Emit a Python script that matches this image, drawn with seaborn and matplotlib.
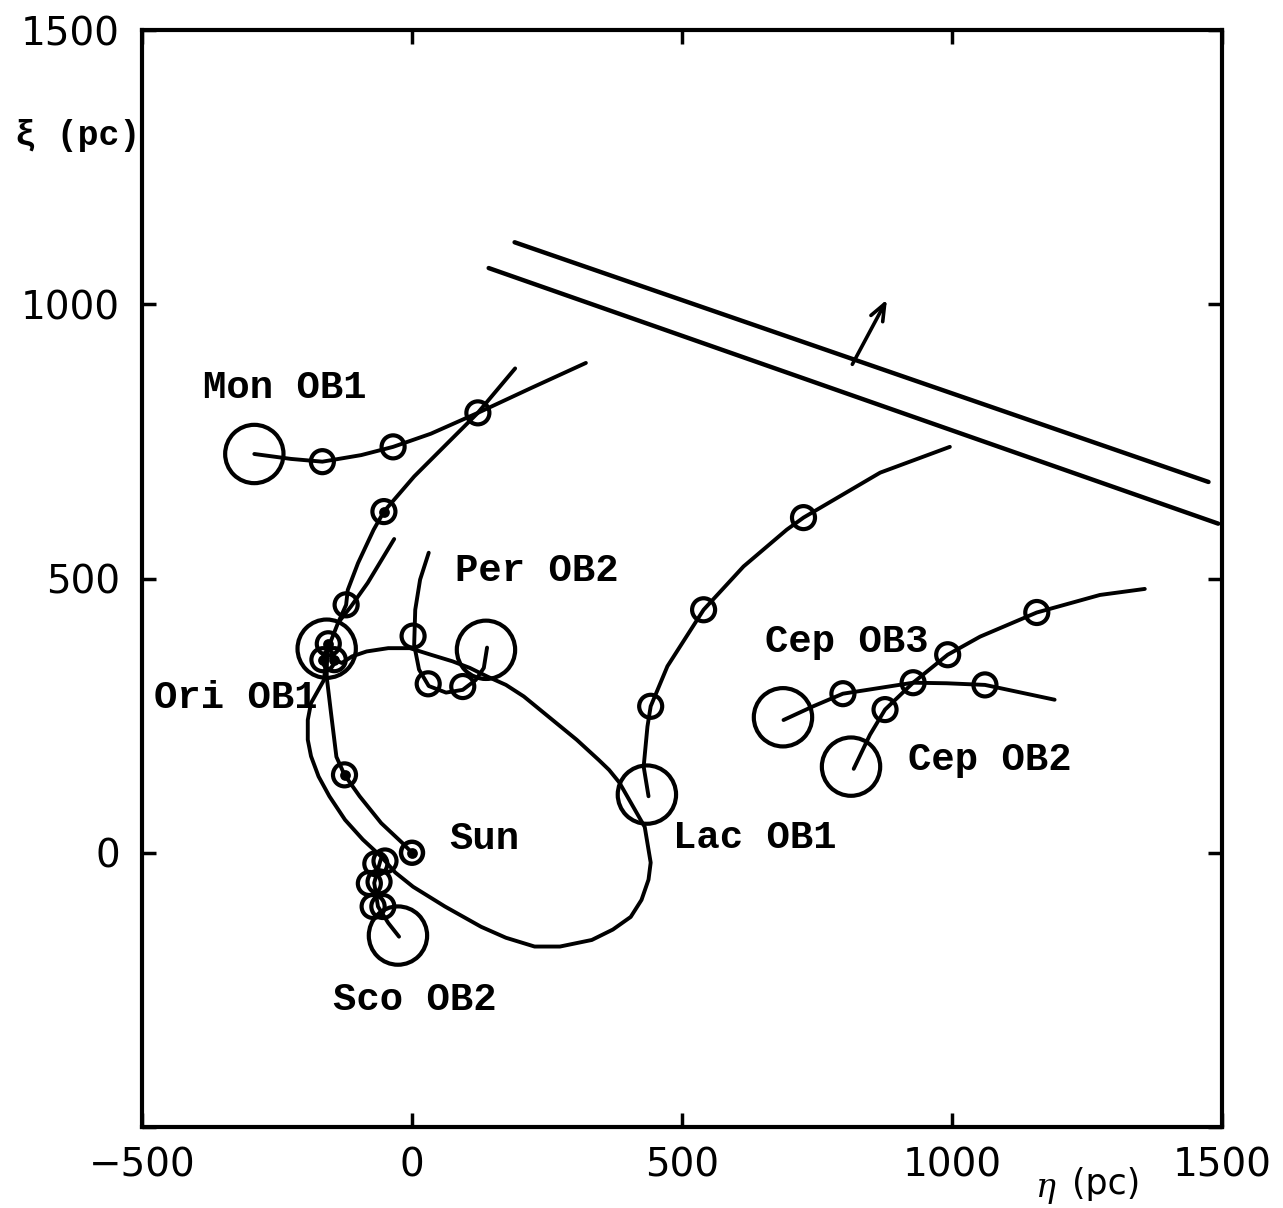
import matplotlib
matplotlib.use("Agg")
import matplotlib.pyplot as plt
import seaborn as sns
import pandas as pd

# ---------------- data (pc) ----------------
mon_x = [-292, -224, -166, -94, -35, 35, 122, 220, 322]
mon_y = [727, 718, 713, 725, 740, 764, 802, 847, 893]
mon_cx = [-166, -35, 122]
mon_cy = [713, 740, 802]

ori_x = [191, 121, 66, 4, -52, -71, -100, -119, -122, -137, -153]
ori_y = [883, 801, 747, 686, 622, 589, 528, 479, 452, 419, 379]
ori2_x = [-33, -82, -113, -137]
ori2_y = [572, 492, 449, 419]
ori_cx = [-52, -122, -155, -165, -144]
ori_cy = [622, 452, 381, 352, 352]

sun_x = [-157, -158, -150, -140, -125, -97, -57, -18, 0]
sun_y = [370, 321, 255, 175, 142, 103, 54, 18, 0]
sun_cx = [-125]
sun_cy = [142]

loop_x = [-157, -163, -187, -193, -193, -187, -173, -153, -124, -91, -57, -31, 2, 61,
          128, 174, 227, 274, 333, 372, 405, 425, 438, 442, 431, 384, 365, 346, 305,
          207, 174, 140, 107, 75, 35, -4, -44, -84, -111, -130, -150]
loop_y = [370, 315, 273, 242, 206, 176, 139, 103, 60, 24, -7, -36, -62, -98,
          -135, -155, -171, -171, -159, -140, -117, -86, -49, -18, 47, 128, 151, 169, 206,
          285, 306, 321, 337, 349, 361, 373, 373, 367, 358, 346, 355]

lac_x = [438, 429, 436, 442, 473, 540, 614, 694, 725, 867, 996]
lac_y = [103, 157, 230, 267, 340, 443, 522, 589, 611, 693, 740]
lac_cx = [442, 540, 725]
lac_cy = [267, 443, 611]

cep3_x = [688, 743, 798, 928, 990, 1061, 1190]
cep3_y = [242, 267, 290, 310, 309, 306, 279]
cep3_cx = [798, 928, 1061]
cep3_cy = [290, 310, 306]

cep2_x = [818, 848, 876, 928, 992, 1052, 1157, 1274, 1357]
cep2_y = [153, 215, 261, 310, 361, 394, 438, 470, 481]
cep2_cx = [876, 992, 1157]
cep2_cy = [261, 361, 438]

per_x = [139, 133, 118, 94, 63, 31, 13, 4, 6, 15, 31]
per_y = [374, 337, 315, 297, 292, 304, 334, 379, 443, 498, 547]
per_cx = [94, 30, 2]
per_cy = [303, 308, 395]

sco_x = [-24, -44, -63, -70, -59, -55]
sco_y = [-153, -128, -98, -55, -16, -4]
sco_cx = [-67, -50, -79, -61, -72, -54]
sco_cy = [-20, -15, -56, -53, -98, -98]

big_x = [-292, -158, 137, 435, 687, 813, -26]
big_y = [727, 372, 370, 106, 247, 157, -151]

dot_x = [0, -125, -52, -155, -165, -144]
dot_y = [0, 142, 622, 381, 352, 352]
sun_pos_x = [0]
sun_pos_y = [0]

plane_up_x = [190, 1475]
plane_up_y = [1113, 676]
plane_lo_x = [142, 1493]
plane_lo_y = [1066, 600]
arrow_from = (813, 886)
arrow_to = (882, 1013)

labels = ["Mon OB1", "Per OB2", "Ori OB1", "Sun", "Lac OB1", "Cep OB3", "Cep OB2", "Sco OB2"]
label_x = [-235, 231, -327, 134, 634, 806, 1070, 6]
label_y = [848, 514, 282, 25, 27, 385, 169, -268]

ticks = [-500, 0, 500, 1000, 1500]
tick_labels = ["\u2212500", "0", "500", "1000", "1500"]

# ---------------- plot ----------------
sns.set_theme(style="white")
plt.rcParams['font.family'] = ['DejaVu Sans']

W, H = 1283, 1208
fig = plt.figure(figsize=(W / 100, H / 100), dpi=100)
ax = fig.add_axes([142 / W, 1 - 1127 / H, (1222 - 142) / W, (1127 - 30) / H])

LW = 2.8
traj = [(mon_x, mon_y), (ori_x, ori_y), (ori2_x, ori2_y), (sun_x, sun_y),
        (loop_x, loop_y), (lac_x, lac_y), (cep3_x, cep3_y), (cep2_x, cep2_y),
        (per_x, per_y), (sco_x, sco_y)]
for xs, ys in traj:
    df = pd.DataFrame({"x": xs, "y": ys})
    sns.lineplot(data=df, x="x", y="y", sort=False, estimator=None, ax=ax,
                 color="black", linewidth=LW)

for xs, ys in [(plane_up_x, plane_up_y), (plane_lo_x, plane_lo_y)]:
    df = pd.DataFrame({"x": xs, "y": ys})
    sns.lineplot(data=df, x="x", y="y", sort=False, estimator=None, ax=ax,
                 color="black", linewidth=3.2)

small_x = mon_cx + ori_cx + sun_cx + lac_cx + cep3_cx + cep2_cx + per_cx + sco_cx
small_y = mon_cy + ori_cy + sun_cy + lac_cy + cep3_cy + cep2_cy + per_cy + sco_cy
sns.scatterplot(x=small_x, y=small_y, s=275, marker="o", facecolors="none",
                edgecolor="black", linewidth=3.0, ax=ax, zorder=3)
sns.scatterplot(x=big_x, y=big_y, s=1764, marker="o", facecolors="none",
                edgecolor="black", linewidth=3.0, ax=ax, zorder=3)
sns.scatterplot(x=sun_pos_x, y=sun_pos_y, s=250, marker="o", facecolors="none",
                edgecolor="black", linewidth=3.2, ax=ax, zorder=3)
sns.scatterplot(x=dot_x, y=dot_y, s=60, marker="o", color="black",
                edgecolor="black", linewidth=0, ax=ax, zorder=4)

ax.annotate("", xy=arrow_to, xytext=arrow_from,
            arrowprops=dict(arrowstyle="->,head_length=1.0,head_width=0.4",
                            color="black", lw=2.6))

for t, x, y in zip(labels, label_x, label_y):
    ax.text(x, y, t, ha="center", va="center", fontsize=28,
            family=["Liberation Mono", "DejaVu Sans"], fontweight="bold", color="black")

ax.set_xlim(-500, 1500)
ax.set_ylim(-500, 1500)
ax.set_xticks(ticks)
ax.set_yticks(ticks)
ax.set_xticklabels(tick_labels)
ax.set_yticklabels([""] + tick_labels[1:])
ax.set_xlabel("")
ax.set_ylabel("")
ax.tick_params(axis="both", which="both", direction="in", length=10, width=2.5,
               labelsize=28, colors="black", top=True, right=True,
               bottom=True, left=True)
ax.tick_params(axis="x", pad=14)
ax.tick_params(axis="y", pad=16)
for sp in ax.spines.values():
    sp.set_visible(True)
    sp.set_linewidth(3.0)
    sp.set_color("black")

fig.text(15 / W, 1 - 135 / H, "\u03be (pc)", ha="left", va="center", fontsize=25,
         family=["Liberation Mono", "DejaVu Sans"], fontweight="bold", color="black")
fig.text(1046 / W, 1 - 1188 / H, "\u03b7", ha="center", va="center", fontsize=24,
         family=["DejaVu Serif"], style="italic", color="black")
fig.text(1106 / W, 1 - 1184 / H, "(pc)", ha="center", va="center", fontsize=25,
         family=["DejaVu Sans"], color="black")

fig.savefig("out.png", dpi=100, facecolor="white")
